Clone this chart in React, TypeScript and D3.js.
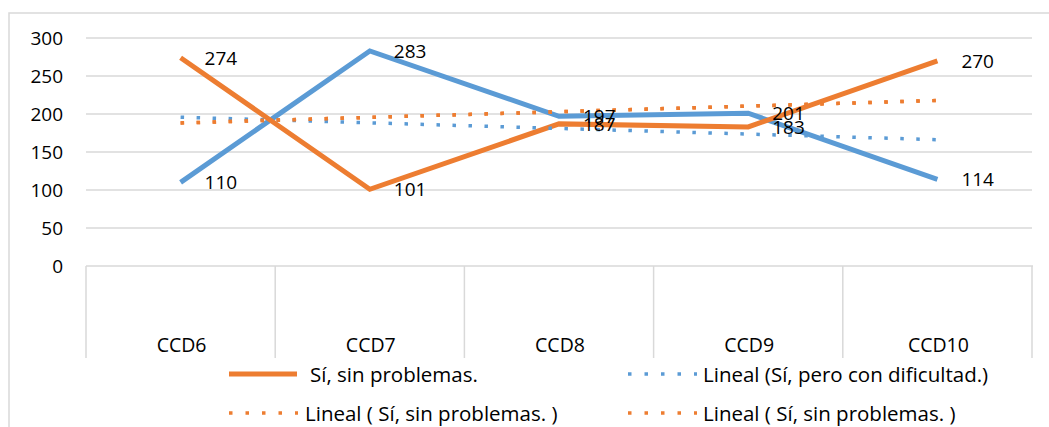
import React from "react";
import * as d3 from "d3";

const categories = ["CCD6", "CCD7", "CCD8", "CCD9", "CCD10"];
const difficultValues = [110, 283, 197, 201, 114]; // Sí, pero con dificultad.
const noProblemValues = [274, 101, 187, 183, 270]; // Sí, sin problemas.
const yTicks = [0, 50, 100, 150, 200, 250, 300];
const legendItems = [
  { label: "Sí, sin problemas.", color: "#ED7D31", dotted: false },
  { label: "Lineal (Sí, pero con dificultad.)", color: "#5B9BD5", dotted: true },
  { label: "Lineal ( Sí, sin problemas. )", color: "#ED7D31", dotted: true },
  { label: "Lineal ( Sí, sin problemas. )", color: "#ED7D31", dotted: true },
];

const BLUE = "#5B9BD5";
const ORANGE = "#ED7D31";
const GRID = "#D9D9D9";
const FONT = "'Open Sans', Lato, sans-serif";

function linearFit(vals: number[]) {
  const xs = vals.map((_, i) => i + 1);
  const mx = d3.mean(xs)!;
  const my = d3.mean(vals)!;
  let num = 0, den = 0;
  xs.forEach((x, i) => { num += (x - mx) * (vals[i] - my); den += (x - mx) ** 2; });
  const b = num / den;
  const a = my - b * mx;
  return xs.map((x) => a + b * x);
}

export default function App() {
  const W = 1049, H = 427;
  const x = d3.scaleBand<string>().domain(categories).range([86, 1032]).padding(0);
  const y = d3.scaleLinear().domain([0, 300]).range([266, 38]);
  const cx = (c: string) => x(c)! + x.bandwidth() / 2;
  const line = d3.line<number>().x((_, i) => cx(categories[i])).y((d) => y(d));

  const trendBlue = linearFit(difficultValues);
  const trendOrange = linearFit(noProblemValues);
  const boundaries = [...categories.map((c) => x(c)!), x.range()[1]];

  const legendPos = [
    { lx: 229, ly: 374, tx: 310 },
    { lx: 628, ly: 374, tx: 703 },
    { lx: 229, ly: 413, tx: 305 },
    { lx: 628, ly: 413, tx: 703 },
  ];

  return (
    <svg width={W} height={H} style={{ position: "fixed", left: 0, top: 0, background: "#fff" }} fontFamily={FONT}>
      <rect x={9} y={13} width={1100} height={500} fill="#fff" stroke={GRID} strokeWidth={1.5} />
      {yTicks.map((t) => (
        <g key={t}>
          {t > 0 && <line x1={86} x2={1032} y1={y(t)} y2={y(t)} stroke={GRID} strokeWidth={1.5} />}
          <text x={63} y={y(t)} textAnchor="end" dominantBaseline="central" fontSize={19} fill="#000">{t}</text>
        </g>
      ))}
      <line x1={86} x2={1033} y1={266} y2={266} stroke={GRID} strokeWidth={1.5} />
      {boundaries.map((b, i) => (
        <line key={i} x1={b} x2={b} y1={266} y2={358} stroke={GRID} strokeWidth={1.5} />
      ))}
      {categories.map((c) => (
        <text key={c} x={cx(c) + 1} y={344} textAnchor="middle" dominantBaseline="central" fontSize={19.5} fill="#000">{c}</text>
      ))}
      <path d={line(difficultValues)!} fill="none" stroke={BLUE} strokeWidth={5} />
      <path d={line(noProblemValues)!} fill="none" stroke={ORANGE} strokeWidth={5} />
      <path d={line(trendBlue)!} fill="none" stroke={BLUE} strokeWidth={3.5} strokeDasharray="3.5 12.5" />
      <path d={line(trendOrange)!} fill="none" stroke={ORANGE} strokeWidth={3.5} strokeDasharray="3.5 12.5" />
      <path d={line(trendOrange)!} fill="none" stroke={ORANGE} strokeWidth={3.5} strokeDasharray="3.5 12.5" />
      {difficultValues.map((v, i) => (
        <text key={"b" + i} x={cx(categories[i]) + 24} y={y(v)} dominantBaseline="central" fontSize={19} fill="#000">{v}</text>
      ))}
      {noProblemValues.map((v, i) => (
        <text key={"o" + i} x={cx(categories[i]) + 24} y={y(v)} dominantBaseline="central" fontSize={19} fill="#000">{v}</text>
      ))}
      {legendItems.map((it, i) => {
        const p = legendPos[i];
        return (
          <g key={i}>
            {it.dotted ? (
              <line x1={p.lx} x2={p.lx + 69} y1={p.ly} y2={p.ly} stroke={it.color} strokeWidth={3.5} strokeDasharray="3.5 13" />
            ) : (
              <line x1={p.lx} x2={p.lx + 68} y1={p.ly} y2={p.ly} stroke={it.color} strokeWidth={5} />
            )}
            <text x={p.tx} y={p.ly} dominantBaseline="central" fontSize={20.5} fill="#000">{it.label}</text>
          </g>
        );
      })}
    </svg>
  );
}
